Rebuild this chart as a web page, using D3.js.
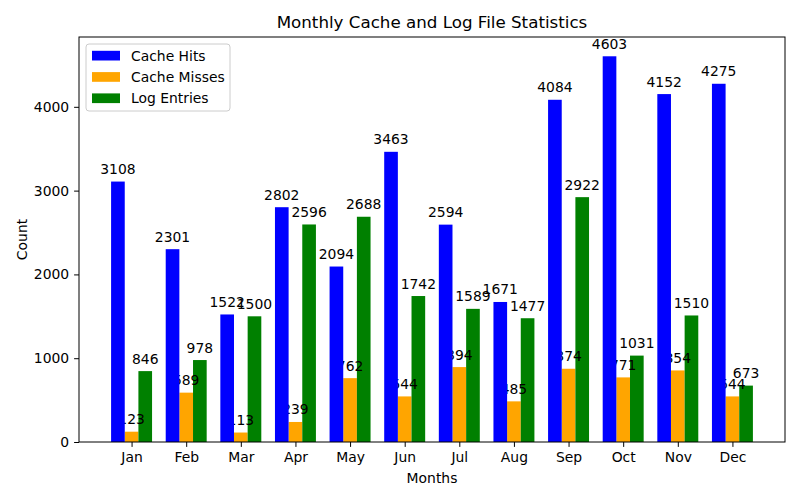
<!DOCTYPE html>
<html>
<head>
<meta charset="utf-8">
<script src="https://cdn.jsdelivr.net/npm/d3@7"></script>
<style>
  body { margin: 0; background: #fff; }
  text { font-family: "DejaVu Sans", sans-serif; }
</style>
</head>
<body>
<script>
var months = ["Jan", "Feb", "Mar", "Apr", "May", "Jun", "Jul", "Aug", "Sep", "Oct", "Nov", "Dec"];
var cacheHits = [3108, 2301, 1522, 2802, 2094, 3463, 2594, 1671, 4084, 4603, 4152, 4275];
var cacheMisses = [123, 589, 113, 239, 762, 544, 894, 485, 874, 771, 854, 544];
var logEntries = [846, 978, 1500, 2596, 2688, 1742, 1589, 1477, 2922, 1031, 1510, 673];
var yTicks = [0, 1000, 2000, 3000, 4000];

var series = [
  { name: "Cache Hits", values: cacheHits, color: "blue", off: -1 },
  { name: "Cache Misses", values: cacheMisses, color: "orange", off: 0 },
  { name: "Log Entries", values: logEntries, color: "green", off: 1 }
];

var W = 800, H = 500;
var margin = { top: 37, right: 15, bottom: 58, left: 79 };
var width = W - margin.left - margin.right;
var height = H - margin.top - margin.bottom;
var bw = 0.25;

// numeric x like matplotlib: index positions with 5% margins
var x = d3.scaleLinear()
  .domain([-0.9625, 11.9625])
  .range([0, width]);

var ymax = d3.max(cacheHits) * 1.05;
var y = d3.scaleLinear().domain([0, ymax]).range([height, 0]);

var svg = d3.select("body").append("svg")
  .attr("width", W).attr("height", H);

var g = svg.append("g")
  .attr("transform", "translate(" + margin.left + "," + margin.top + ")");

var pxw = x(bw) - x(0);

function drawBars(s) {
  g.append("g").selectAll("rect")
    .data(s.values)
    .enter().append("rect")
    .attr("x", function (d, i) { return x(i + s.off * bw - bw / 2); })
    .attr("y", function (d) { return y(d); })
    .attr("width", pxw)
    .attr("height", function (d) { return y(0) - y(d); })
    .attr("fill", s.color);
}

// orange and green first, labels, then blue on top (as in the reference)
drawBars(series[1]);
drawBars(series[2]);

series.forEach(function (s) {
  g.append("g").selectAll("text")
    .data(s.values)
    .enter().append("text")
    .attr("x", function (d, i) { return x(i + s.off * bw); })
    .attr("y", function (d) { return y(d) - 7.5; })
    .attr("text-anchor", "middle")
    .attr("font-size", "13.9px")
    .attr("fill", "#000")
    .text(function (d) { return d; });
});

drawBars(series[0]);

// axes
var xAxis = g.append("g")
  .attr("transform", "translate(0," + height + ")")
  .call(d3.axisBottom(x).tickValues(d3.range(months.length))
    .tickFormat(function (i) { return months[i]; })
    .tickSizeOuter(0).tickSize(4.9).tickPadding(4.9));
xAxis.selectAll("text").attr("font-size", "13.9px").attr("fill", "#000")
  .attr("font-family", "DejaVu Sans, sans-serif");

var yAxis = g.append("g")
  .call(d3.axisLeft(y).tickValues(yTicks).tickFormat(d3.format("d"))
    .tickSizeOuter(0).tickSize(4.9).tickPadding(4.9));
yAxis.selectAll("text").attr("font-size", "13.9px").attr("fill", "#000")
  .attr("font-family", "DejaVu Sans, sans-serif");

g.selectAll(".domain").remove();
g.selectAll(".tick line").attr("stroke", "#000").attr("stroke-width", 1);

// frame
g.append("rect")
  .attr("x", 0).attr("y", 0)
  .attr("width", width).attr("height", height)
  .attr("fill", "none").attr("stroke", "#000").attr("stroke-width", 1);

// title and labels
svg.append("text")
  .attr("x", margin.left + width / 2).attr("y", 28)
  .attr("text-anchor", "middle").attr("font-size", "16.7px")
  .text("Monthly Cache and Log File Statistics");

svg.append("text")
  .attr("x", margin.left + width / 2).attr("y", 483)
  .attr("text-anchor", "middle").attr("font-size", "13.9px")
  .text("Months");

svg.append("text")
  .attr("transform", "translate(27," + (margin.top + height / 2) + ") rotate(-90)")
  .attr("text-anchor", "middle").attr("font-size", "13.9px")
  .text("Count");

// legend
var lg = svg.append("g").attr("transform", "translate(86,44)");
lg.append("rect")
  .attr("width", 144).attr("height", 67).attr("rx", 3)
  .attr("fill", "#fff").attr("fill-opacity", 0.8)
  .attr("stroke", "#ccc").attr("stroke-width", 1);

var item = lg.selectAll(".item")
  .data(series)
  .enter().append("g")
  .attr("transform", function (d, i) { return "translate(0," + (11.7 + i * 21.3) + ")"; });

item.append("rect")
  .attr("x", 6).attr("y", -4.9)
  .attr("width", 28).attr("height", 9.7)
  .attr("fill", function (d) { return d.color; });

item.append("text")
  .attr("x", 45).attr("y", 0).attr("dy", "0.35em")
  .attr("font-size", "13.9px")
  .text(function (d) { return d.name; });
</script>
</body>
</html>
